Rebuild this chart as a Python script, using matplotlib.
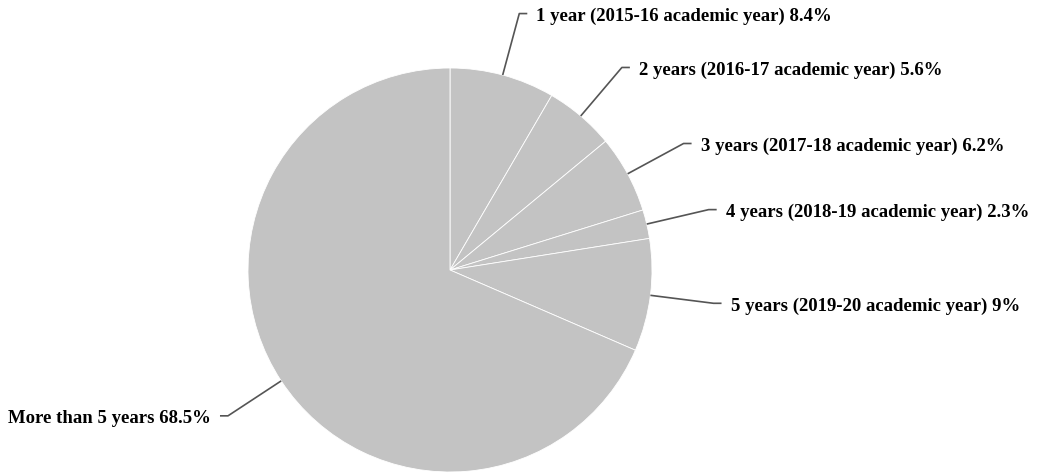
import matplotlib
matplotlib.use("Agg")
import matplotlib.pyplot as plt
import numpy as np

# Years of teaching experience, share of respondents (%)
categories = [
    "1 year (2015-16 academic year)",
    "2 years (2016-17 academic year)",
    "3 years (2017-18 academic year)",
    "4 years (2018-19 academic year)",
    "5 years (2019-20 academic year)",
    "More than 5 years",
]
shares = [8.4, 5.6, 6.2, 2.3, 9, 68.5]
share_text = ["8.4%", "5.6%", "6.2%", "2.3%", "9%", "68.5%"]

plt.rcParams['font.family'] = ['Liberation Serif', 'DejaVu Serif']

fig = plt.figure(figsize=(10.47, 4.74), dpi=100)
ax = fig.add_axes([0, 0, 1, 1])

cx, cy, r = 450, 204, 202
wedges, _ = ax.pie(shares, center=(cx, cy), radius=r, startangle=90,
                   counterclock=False, colors=['#c3c3c3'] * len(shares),
                   wedgeprops=dict(edgecolor='white', linewidth=0.6),
                   frame=True)
ax.set_xlim(0, 1047)
ax.set_ylim(0, 474)
ax.axis('off')

# leader lines: radial piece out of the wedge, short horizontal tail, then label
for w, name, txt in zip(wedges, categories, share_text):
    ang = np.deg2rad((w.theta1 + w.theta2) / 2)
    ca, sa = np.cos(ang), np.sin(ang)
    x0, y0 = cx + r * ca, cy + r * sa
    x1, y1 = cx + 1.315 * r * ca, cy + 1.315 * r * sa
    side = 1 if ca >= 0 else -1
    x2 = x1 + side * 8
    ax.plot([x0, x1, x2], [y0, y1, y1], color='#555555', lw=1.2,
            solid_capstyle='butt')
    ax.text(x2 + side * 9, y1 - 3, f"{name} {txt}",
            ha='left' if side > 0 else 'right', va='center',
            fontsize=13.5, fontweight='bold', color='black')

fig.savefig("out.png", dpi=100)
